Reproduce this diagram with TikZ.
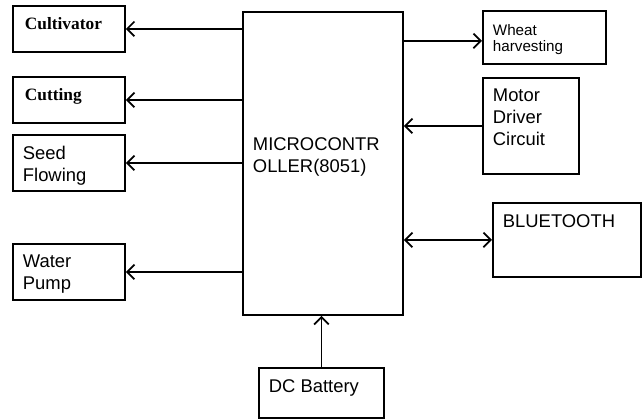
\documentclass[tikz,border=0pt]{standalone}
\usepackage{fontspec}
\setmainfont{Liberation Sans}
\newfontfamily\timesfont{Liberation Serif}
\usetikzlibrary{arrows.meta}

\tikzset{
	box/.style={draw, line width=1.4pt, anchor=north west, inner sep=0pt},
	txt/.style={anchor=north west, align=left, inner xsep=8pt, inner ysep=9pt,
		font=\fontsize{13.8pt}{16.5pt}\selectfont},
	serif/.style={txt, inner xsep=9.5pt, font=\timesfont\bfseries\fontsize{13pt}{15pt}\selectfont},
	tip/.style={Straight Barb[length=5.5pt,width=11pt]},
	link/.style={line width=1.3pt, -{Straight Barb[length=5.5pt,width=11pt]}}
}

\begin{document}
\begin{tikzpicture}[x=0.75pt,y=-0.75pt]
\useasboundingbox (0,0) rectangle (642,420);
% left column
\node[box, minimum width=84pt, minimum height=34.5pt, label={[serif]north west:Cultivator}] (cult) at (12,5) {};
\node[box, minimum width=84pt, minimum height=34.5pt, label={[serif]north west:Cutting}] (cut) at (12,76) {};
\node[box, minimum width=84pt, minimum height=42pt, label={[txt]north west:Seed\\Flowing}] (seed) at (12,134) {};
\node[box, minimum width=84pt, minimum height=42pt, label={[txt]north west:Water\\Pump}] (pump) at (12,243) {};
% controller and supply
\node[box, minimum width=120pt, minimum height=227.25pt, label={[txt, anchor=west, yshift=4.5pt]west:MICROCONTR\\OLLER(8051)}] (micro) at (242,11) {};
\node[box, minimum width=93.75pt, minimum height=37.5pt, label={[txt]north west:DC Battery}] (batt) at (258,367) {};
% right column
\node[box, minimum width=92.25pt, minimum height=39.75pt, label={[txt, inner ysep=10.5pt, font=\fontsize{11.4pt}{12.5pt}\selectfont]north west:Wheat\\harvesting}] (wheat) at (482,10) {};
\node[box, minimum width=72pt, minimum height=72pt, label={[txt]north west:Motor\\Driver\\Circuit}] (motor) at (482,77) {};
\node[box, minimum width=111pt, minimum height=55.5pt, label={[txt]north west:BLUETOOTH}] (blue) at (492,202) {};

\foreach \n in {cult,cut,seed,pump}
{
	\draw[link] (micro.west |- \n) -- (\n);
}
\draw[link] ([yshift=-2.6pt]micro.east |- wheat.west) -- ([yshift=-2.6pt]wheat.west);
\draw[link] (motor) -- (micro.east |- motor);
\draw[line width=1.3pt, {Straight Barb[length=5.5pt,width=11pt]}-{Straight Barb[length=5.5pt,width=11pt]}] (micro.east |- blue) -- (blue);
\draw[link] (batt) -- (micro.south -| batt);
\end{tikzpicture}
\end{document}
